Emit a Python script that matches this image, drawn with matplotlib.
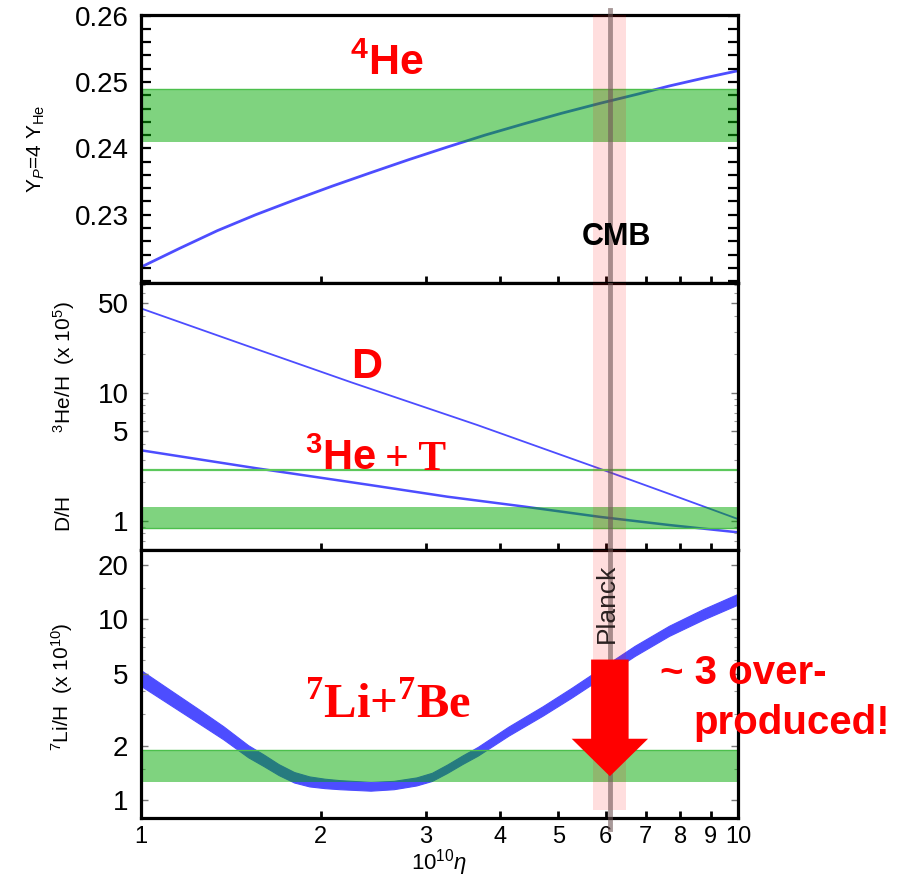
import matplotlib
matplotlib.use("Agg")
import matplotlib.pyplot as plt
from matplotlib.ticker import FixedLocator, NullLocator, NullFormatter, MultipleLocator

plt.rcParams["font.family"] = ["Liberation Sans", "DejaVu Sans"]
plt.rcParams["mathtext.fontset"] = "custom"
plt.rcParams["mathtext.rm"] = "Liberation Sans"
plt.rcParams["mathtext.it"] = "Liberation Sans:italic"
plt.rcParams["mathtext.bf"] = "Liberation Sans:bold"

# --- data ---
eta_he = [1, 1.159, 1.343, 1.557, 1.805, 2.09, 2.42, 2.81, 3.26, 3.77,
          4.38, 5.07, 5.88, 6.81, 7.67, 8.77, 10]
yp = [0.2221, 0.2249, 0.2276, 0.2300, 0.2322, 0.2343, 0.2363, 0.2383, 0.2402, 0.2420,
      0.2437, 0.2453, 0.2468, 0.2482, 0.2494, 0.2506, 0.2517]

eta_d = [1, 1.5, 2.25, 3.66, 5.88, 7.67, 10]
dh = [45.6, 23.4, 12.06, 5.59, 2.54, 1.62, 1.03]

eta_he3 = [1, 1.56, 2.42, 3.26, 4.38, 5.88, 7.67, 10]
he3h = [3.55, 2.57, 1.90, 1.54, 1.29, 1.07, 0.925, 0.811]

eta_li = [1, 1.117, 1.248, 1.374, 1.512, 1.604, 1.701, 1.805, 1.914, 2.031, 2.154,
          2.424, 2.649, 2.894, 3.071, 3.257, 3.455, 3.665, 4.125, 4.711, 5.262,
          5.878, 6.713, 7.665, 8.755, 10]
li_hi = [5.242, 4.093, 3.198, 2.568, 2.018, 1.795, 1.585, 1.435, 1.357, 1.318, 1.294,
         1.265, 1.282, 1.340, 1.421, 1.578, 1.772, 1.975, 2.556, 3.318, 4.188,
         5.342, 7.145, 9.226, 11.43, 13.86]
li_lo = [4.291, 3.388, 2.674, 2.175, 1.731, 1.549, 1.380, 1.256, 1.195, 1.169, 1.153,
         1.132, 1.153, 1.210, 1.281, 1.419, 1.590, 1.768, 2.278, 2.944, 3.698,
         4.702, 6.281, 8.110, 10.0, 12.09]

# observed abundances
yp_obs = (0.241, 0.249)
dh_obs = (0.88, 1.29)
he3_obs = 2.49
li_obs = (1.27, 1.89)

# Planck / CMB baryon density
planck_eta = 6.1
planck_lo, planck_hi = 5.72, 6.49

# "factor 3" arrow
arrow_top, arrow_tip = 6.0, 1.36

x_ticks = [1, 2, 3, 4, 5, 6, 7, 8, 9, 10]

BLUE = "#4d4dff"
RED = "#ff0000"
GREEN = "#00a900"
EDGE = "#4cbf4c"

fig = plt.figure(figsize=(9.06, 8.82), dpi=100)
ax_he = fig.add_axes([0.1556, 0.6791, 0.659, 0.3039])
ax_d = fig.add_axes([0.1556, 0.3764, 0.659, 0.3027])
ax_li = fig.add_axes([0.1556, 0.0726, 0.659, 0.3039])


def style(ax, last=False):
    ax.set_xscale("log")
    ax.set_xlim(1, 10)
    for s in ax.spines.values():
        s.set_linewidth(2.3)
    ax.xaxis.set_major_locator(FixedLocator(x_ticks))
    ax.xaxis.set_minor_locator(NullLocator())
    ax.xaxis.set_minor_formatter(NullFormatter())
    if last:
        ax.set_xticklabels([str(t) for t in x_ticks])
    ax.tick_params(axis="x", which="major", direction="in", length=5, width=2,
                   top=False, bottom=True, labelbottom=last, labelsize=17, pad=6)


for ax in (ax_he, ax_d, ax_li):
    style(ax, last=(ax is ax_li))

# ---- top panel: 4He ----
ax_he.plot(eta_he, yp, color=BLUE, lw=2.0, zorder=1)
ax_he.axhspan(yp_obs[0], yp_obs[1], color=GREEN, alpha=0.5, lw=0, zorder=2)
ax_he.axhline(yp_obs[1], color=EDGE, lw=1.0, zorder=2)
ax_he.set_ylim(0.2197, 0.2601)
ax_he.yaxis.set_major_locator(FixedLocator([0.23, 0.24, 0.25, 0.26]))
ax_he.yaxis.set_minor_locator(MultipleLocator(0.002))
ax_he.set_yticklabels(["0.23", "0.24", "0.25", "0.26"])
ax_he.tick_params(axis="y", which="both", direction="in", length=7, width=1.6,
                  left=True, right=True, labelsize=20, pad=9)
ax_he.set_ylabel("Y$_{P}$=4 Y$_{\\mathrm{He}}$", fontsize=15)
ax_he.yaxis.set_label_coords(-0.158, 0.5)
ax_he.text(2.24, 0.2511, "$^{\\mathdefault{4}}$He", color=RED, fontsize=31,
           fontweight="bold", ha="left", va="baseline")
ax_he.text(6.25, 0.2267, "CMB", color="black", fontsize=22, fontweight="bold",
           ha="center", va="center", zorder=6)

# ---- middle panel: D and 3He ----
ax_d.set_yscale("log")
ax_d.plot(eta_d, dh, color=BLUE, lw=1.3, zorder=1)
ax_d.plot(eta_he3, he3h, color=BLUE, lw=1.8, zorder=1)
ax_d.axhspan(dh_obs[0], dh_obs[1], color=GREEN, alpha=0.5, lw=0, zorder=2)
ax_d.axhline(dh_obs[0], color=EDGE, lw=1.0, zorder=2)
ax_d.axhline(he3_obs, color="#5cc85c", lw=1.6, zorder=2)
ax_d.set_ylim(0.59, 72)
ax_d.yaxis.set_major_locator(FixedLocator([1, 5, 10, 50]))
ax_d.yaxis.set_minor_locator(FixedLocator([0.7, 0.8, 0.9, 2, 3, 4, 6, 7, 8, 9, 20, 30, 40, 60, 70]))
ax_d.yaxis.set_minor_formatter(NullFormatter())
ax_d.set_yticklabels(["1", "5", "10", "50"])
ax_d.tick_params(axis="y", which="major", direction="in", length=5, width=1.0,
                 color="#777777", left=True, right=True, labelsize=20, pad=9)
ax_d.tick_params(axis="y", which="minor", direction="in", length=3, width=0.8,
                 color="#999999", left=True, right=True)
ax_d.set_ylabel("D/H" + " " * 11 + "$^{3}$He/H  (x 10$^{5}$)", fontsize=15)
ax_d.yaxis.set_label_coords(-0.107, 0.50)
ax_d.text(2.25, 13.0, "D", color=RED, fontsize=31, fontweight="bold",
          ha="left", va="baseline")
ax_d.text(1.88, he3_obs, "$^{\\mathdefault{3}}$He", color=RED, fontsize=30,
          fontweight="bold", ha="left", va="baseline")
ax_d.text(2.56, he3_obs, "+ T", color=RED, fontsize=30, fontweight="bold",
          family="Liberation Serif", ha="left", va="baseline")

# ---- bottom panel: 7Li ----
ax_li.set_yscale("log")
ax_li.fill_between(eta_li, li_lo, li_hi, color=BLUE, lw=0.8, edgecolor=BLUE, zorder=1)
ax_li.axhspan(li_obs[0], li_obs[1], color=GREEN, alpha=0.5, lw=0, zorder=2)
ax_li.axhline(li_obs[1], color=EDGE, lw=1.0, zorder=2)
ax_li.set_ylim(0.80, 24.2)
ax_li.yaxis.set_major_locator(FixedLocator([1, 2, 5, 10, 20]))
ax_li.yaxis.set_minor_locator(FixedLocator([1.5, 3, 4, 6, 7, 8, 9, 15]))
ax_li.yaxis.set_minor_formatter(NullFormatter())
ax_li.set_yticklabels(["1", "2", "5", "10", "20"])
ax_li.tick_params(axis="y", which="major", direction="in", length=5, width=1.0,
                  color="#777777", left=True, right=True, labelsize=20, pad=9)
ax_li.tick_params(axis="y", which="minor", direction="in", length=3, width=0.8,
                  color="#999999", left=True, right=True)
ax_li.set_ylabel("$^{7}$Li/H  (x 10$^{10}$)", fontsize=15)
ax_li.yaxis.set_label_coords(-0.11, 0.49)
ax_li.set_xlabel("10$^{10}$$\\eta$", fontsize=16, labelpad=-1)
ax_li.text(1.88, 2.87, "$^{\\mathdefault{7}}$Li+$^{\\mathdefault{7}}$Be", color=RED,
           fontsize=35, fontweight="bold", family="Liberation Serif",
           ha="left", va="baseline")
ax_li.text(7.4, 4.38, "~ 3 over-", color=RED, fontsize=29, fontweight="bold",
           ha="left", va="baseline", zorder=10, clip_on=False)
ax_li.text(8.41, 2.34, "produced!", color=RED, fontsize=29, fontweight="bold",
           ha="left", va="baseline", zorder=10, clip_on=False)
ax_li.annotate("", xy=(planck_eta, arrow_tip), xytext=(planck_eta, arrow_top),
               arrowprops=dict(facecolor=RED, edgecolor="none", width=27,
                               headwidth=55, headlength=27, shrink=0),
               zorder=8)
ax_li.text(6.03, 12.2, "Planck", rotation=90, color="#2a2020", fontsize=19,
           ha="center", va="center", zorder=6)

# ---- Planck band across all panels ----
for ax in (ax_he, ax_d, ax_li):
    ymin = 0.03 if ax is ax_li else 0
    ax.axvspan(planck_lo, planck_hi, ymin=ymin, ymax=1, color="red", alpha=0.13,
               lw=0, zorder=3)
ax_he.axvline(planck_eta, ymin=0, ymax=1.02, color="#6e5555", alpha=0.6, lw=3.5,
              zorder=4, clip_on=False)
ax_d.axvline(planck_eta, color="#6e5555", alpha=0.6, lw=3.5, zorder=4)
ax_li.axvline(planck_eta, ymin=-0.04, ymax=1, color="#6e5555", alpha=0.6, lw=3.5,
              zorder=4, clip_on=False)

fig.savefig("out.png", dpi=100)
